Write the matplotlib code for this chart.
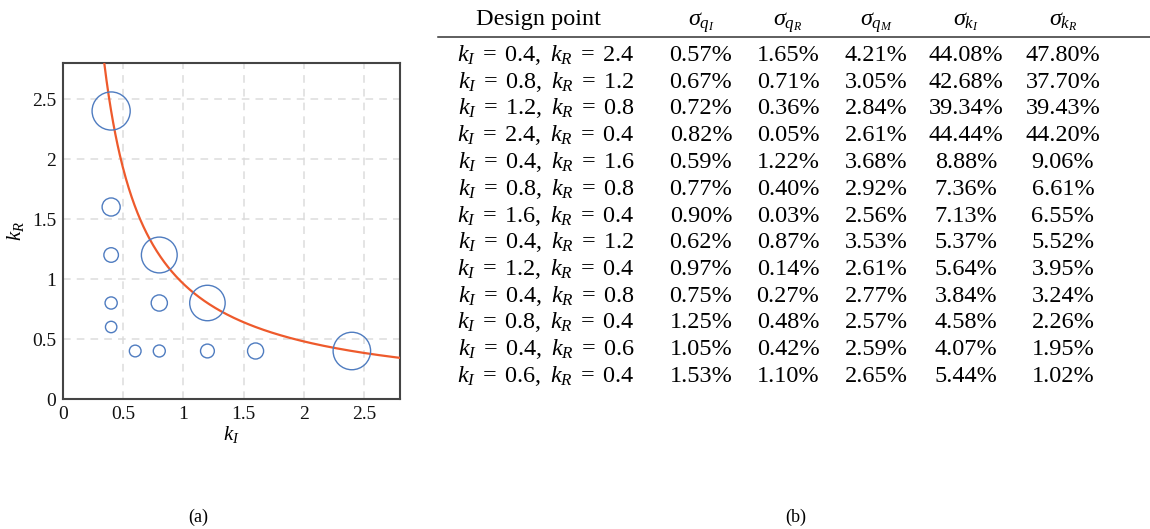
import numpy as np
import matplotlib
matplotlib.use("Agg")
import matplotlib.pyplot as plt
from matplotlib.ticker import MultipleLocator, FuncFormatter

# === Daten: Design-Punkte und Standardabweichungen (%) ===
k_i = [0.4, 0.8, 1.2, 2.4, 0.4, 0.8, 1.6, 0.4, 1.2, 0.4, 0.8, 0.4, 0.6]
k_r = [2.4, 1.2, 0.8, 0.4, 1.6, 0.8, 0.4, 1.2, 0.4, 0.8, 0.4, 0.6, 0.4]
sig_qi = [0.57, 0.67, 0.72, 0.82, 0.59, 0.77, 0.90, 0.62, 0.97, 0.75, 1.25, 1.05, 1.53]
sig_qr = [1.65, 0.71, 0.36, 0.05, 1.22, 0.40, 0.03, 0.87, 0.14, 0.27, 0.48, 0.42, 1.10]
sig_qm = [4.21, 3.05, 2.84, 2.61, 3.68, 2.92, 2.56, 3.53, 2.61, 2.77, 2.57, 2.59, 2.65]
sig_ki = [44.08, 42.68, 39.34, 44.44, 8.88, 7.36, 7.13, 5.37, 5.64, 3.84, 4.58, 4.07, 5.44]
sig_kr = [47.80, 37.70, 39.43, 44.20, 9.06, 6.61, 6.55, 5.52, 3.95, 3.24, 2.26, 1.95, 1.02]

headers = ["Design point", r"$\sigma_{q_I}$", r"$\sigma_{q_R}$", r"$\sigma_{q_M}$",
           r"$\sigma_{k_I}$", r"$\sigma_{k_R}$"]
captions = ["(a)", "(b)"]

# Isolinie k_I * k_R = const
K_PRODUCT = 0.96
LIM = 2.8

W, H = 1150, 529

plt.rcParams["font.family"] = ["Liberation Serif", "DejaVu Serif"]
plt.rcParams["mathtext.fontset"] = "custom"
plt.rcParams["mathtext.rm"] = "Liberation Serif"
plt.rcParams["mathtext.it"] = "Liberation Serif:italic"
plt.rcParams["mathtext.bf"] = "Liberation Serif:bold"

fig = plt.figure(figsize=(W / 100, H / 100), dpi=100)

# --- (a) Streudiagramm ---
ax = fig.add_axes([63 / W, 1 - 399 / H, 337 / W, 336 / H])

kk = np.linspace(K_PRODUCT / LIM, LIM, 400)
ax.plot(kk, K_PRODUCT / kk, color="#ee5a2c", lw=1.6, zorder=3)

# Kreisgroesse aus der mittleren Unsicherheit von k
sig_k_mean = (np.array(sig_ki) + np.array(sig_kr)) / 2
diam_px = 2.2 + 5.3 * np.sqrt(sig_k_mean)
sizes = (diam_px * 0.72) ** 2
ax.scatter(k_i, k_r, s=sizes, facecolors="none", edgecolors="#4f7cc0",
           linewidths=1.0, zorder=4)

ax.set_xlim(0, LIM)
ax.set_ylim(0, LIM)
ax.xaxis.set_major_locator(MultipleLocator(0.5))
ax.yaxis.set_major_locator(MultipleLocator(0.5))
fmt = FuncFormatter(lambda v, p: f"{v:g}")
ax.xaxis.set_major_formatter(fmt)
ax.yaxis.set_major_formatter(fmt)
ax.tick_params(length=0, labelsize=14, pad=5, colors="#111111")
ax.grid(True, color="#dcdcdc", lw=1.1, ls=(0, (5, 4)))
ax.set_axisbelow(True)
for s in ax.spines.values():
    s.set_color("#444444")
    s.set_linewidth(1.5)
ax.set_xlabel(r"$k_I$", fontsize=15, labelpad=1)
ax.set_ylabel(r"$k_R$", fontsize=15, labelpad=4)

# --- (b) Tabelle ---
ROW0 = 61.0
DY = 26.75
tab = fig.add_axes([0, 0, 1, 1], zorder=-1)
tab.set_xlim(0, W)
tab.set_ylim((H - ROW0) / DY, -ROW0 / DY)
tab.axis("off")

col_x = [546, 701, 788, 876, 966, 1063]
fs = 17.5
tab.text(col_x[0] - 8, -1.33, headers[0], ha="center", va="baseline", fontsize=fs)
for x, h in zip(col_x[1:], headers[1:]):
    tab.text(x, -1.33, h, ha="center", va="baseline", fontsize=fs)
tab.plot([438, W], [(37 - ROW0) / DY] * 2, color="#333333", lw=1.1)

for r in range(len(k_i)):
    label = rf"$k_I\; =\; {k_i[r]:g},\ k_R\; =\; {k_r[r]:g}$"
    vals = [sig_qi[r], sig_qr[r], sig_qm[r], sig_ki[r], sig_kr[r]]
    tab.text(col_x[0], r, label, ha="center", va="baseline", fontsize=fs)
    for x, v in zip(col_x[1:], vals):
        tab.text(x, r, f"{v:.2f}%", ha="center", va="baseline", fontsize=fs)

fig.text(198 / W, 1 - 522 / H, captions[0], ha="center", va="baseline", fontsize=13)
fig.text(796 / W, 1 - 522 / H, captions[1], ha="center", va="baseline", fontsize=13)

fig.savefig("out.png", dpi=100)
